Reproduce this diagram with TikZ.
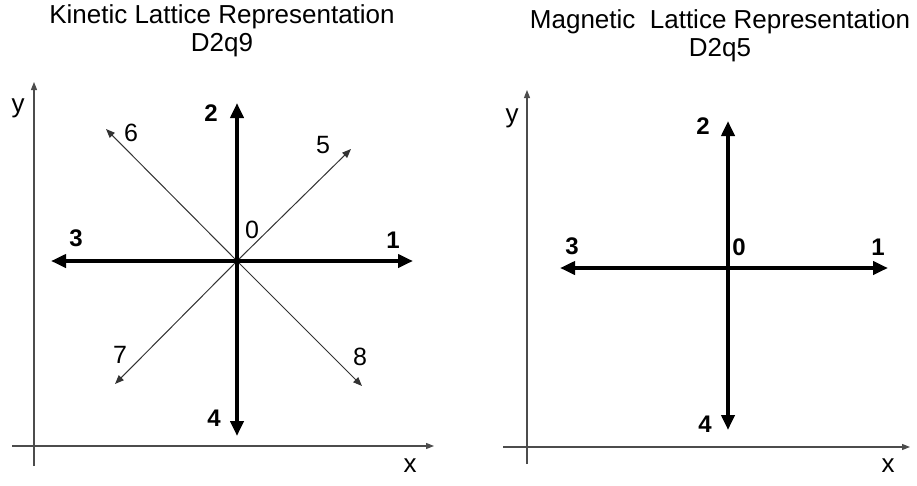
\documentclass[tikz,border=0pt]{standalone}
\usepackage{fontspec}
\setmainfont{Liberation Sans}
\usetikzlibrary{arrows.meta,positioning}
\tikzset{
  axis/.style={-{Triangle[length=8pt,width=6pt]},line width=1.1pt,draw=black!70},
  mainvel/.style={-{Triangle[length=15pt,width=13pt]},line width=3.8pt},
  diagvel/.style={-{Triangle[length=9pt,width=7pt]},line width=1pt,draw=black!80},
  title/.style={font=\fontsize{26}{28}\selectfont,align=center,inner sep=0pt},
  axislabel/.style={font=\fontsize{26}{26}\selectfont,inner sep=0pt},
  mainlabel/.style={font=\fontsize{24}{24}\selectfont\bfseries,inner sep=0pt},
  diaglabel/.style={font=\fontsize{25}{25}\selectfont,inner sep=0pt}
}

\begin{document}
\begin{tikzpicture}[x=1pt,y=-1pt]
  \useasboundingbox (0,0) rectangle (917,485);
  % kinetic lattice, D2q9
  \node[title] (kintitle) at (222,31) {Kinetic Lattice Representation\\D2q9};
  \coordinate (kyb) at (34,466);
  \coordinate (kyt) at (34,82);
  \coordinate (kxl) at (12,446);
  \coordinate (kxr) at (434,446);
  \draw[axis] (kyb)--(kyt);
  \draw[axis] (kxl)--(kxr);
  \node[axislabel] (ky) at (18,108) {y};
  \node[axislabel] (kx) at (410,466) {x};
  \coordinate (k0) at (237,261);
  \coordinate (k1) at (413,261);
  \coordinate (k2) at (237,103);
  \coordinate (k3) at (51,261);
  \coordinate (k4) at (237,436);
  \coordinate (k5) at (351,149);
  \coordinate (k6) at (106,129);
  \coordinate (k7) at (115,384);
  \coordinate (k8) at (362,386);
  \draw[diagvel] (k0)--(k5);
  \draw[diagvel] (k0)--(k6);
  \draw[diagvel] (k0)--(k7);
  \draw[diagvel] (k0)--(k8);
  \draw[mainvel] (k0)--(k1);
  \draw[mainvel] (k0)--(k2);
  \draw[mainvel] (k0)--(k3);
  \draw[mainvel] (k0)--(k4);
  \node[diaglabel] (kl0) at (252,230) {0};
  \node[mainlabel] (kl1) at (393,240) {1};
  \node[mainlabel] (kl2) at (211,113) {2};
  \node[mainlabel] (kl3) at (76,238) {3};
  \node[mainlabel] (kl4) at (214,418) {4};
  \node[diaglabel] (kl5) at (323,145) {5};
  \node[diaglabel] (kl6) at (131,133) {6};
  \node[diaglabel] (kl7) at (120,355) {7};
  \node[diaglabel] (kl8) at (360,357) {8};
  % magnetic lattice, D2q5
  \node[title] (magtitle) at (720,36) {Magnetic\ \ Lattice Representation\\D2q5};
  \coordinate (myb) at (527,464);
  \coordinate (myt) at (527,90);
  \coordinate (mxl) at (503,447);
  \coordinate (mxr) at (910,447);
  \draw[axis] (myb)--(myt);
  \draw[axis] (mxl)--(mxr);
  \node[axislabel] (my) at (512,118) {y};
  \node[axislabel] (mx) at (888,466) {x};
  \coordinate (m0) at (728,268);
  \coordinate (m1) at (888,268);
  \coordinate (m2) at (728,121);
  \coordinate (m3) at (560,268);
  \coordinate (m4) at (728,430);
  \draw[mainvel] (m0)--(m1);
  \draw[mainvel] (m0)--(m2);
  \draw[mainvel] (m0)--(m3);
  \draw[mainvel] (m0)--(m4);
  \node[mainlabel] (ml0) at (739,247) {0};
  \node[mainlabel] (ml1) at (878,247) {1};
  \node[mainlabel] (ml2) at (703,126) {2};
  \node[mainlabel] (ml3) at (572,246) {3};
  \node[mainlabel] (ml4) at (705,424) {4};
\end{tikzpicture}
\end{document}
